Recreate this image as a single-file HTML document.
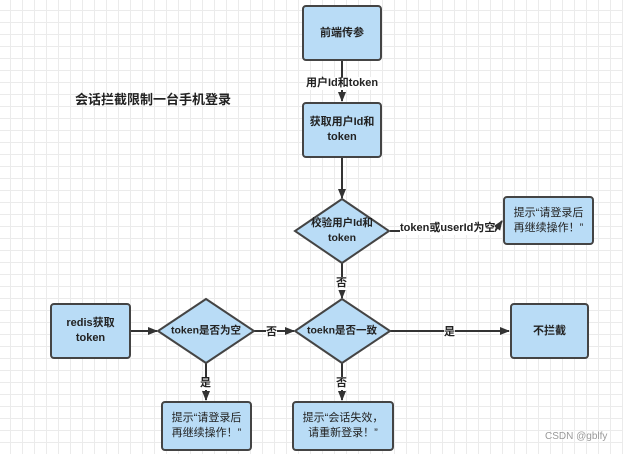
<!DOCTYPE html>
<html><head><meta charset="utf-8"><style>
html,body{margin:0;padding:0}
body{width:623px;height:454px;overflow:hidden;position:relative;background-color:#fff;
background-image:linear-gradient(#ebebeb 1px,transparent 1px),linear-gradient(90deg,#ebebeb 1px,transparent 1px);
background-size:12px 12px;background-position:-2px -2px;
font-family:"Liberation Sans","Noto Sans CJK SC",sans-serif;}
.b{position:absolute;box-sizing:border-box;background:#b9dcf6;border:2px solid #444;border-radius:4px;display:flex;align-items:center;justify-content:center;text-align:center;font-size:11px;font-weight:bold;color:#222;line-height:15px}
.t{position:absolute;font-size:11px;font-weight:bold;color:#222;background:#fff;line-height:13px;white-space:nowrap}
svg{position:absolute;left:0;top:0}
.dt{position:absolute;font-size:10.5px;font-weight:bold;color:#222;text-align:center;line-height:15px;transform:translate(-50%,-50%);white-space:nowrap}
</style></head><body>
<svg width="623" height="454">
<defs><marker id="a" markerWidth="10" markerHeight="10" refX="9" refY="5" orient="auto" markerUnits="userSpaceOnUse"><path d="M0,1 L10,5 L0,9 z" fill="#333"/></marker></defs>
<g stroke="#333" stroke-width="2" fill="none">
<line x1="342" y1="61" x2="342" y2="101" marker-end="url(#a)"/>
<line x1="342" y1="158" x2="342" y2="198" marker-end="url(#a)"/>
<polyline points="390,231 495,231 502,221" marker-end="url(#a)"/>
<line x1="342" y1="263" x2="342" y2="298" marker-end="url(#a)"/>
<line x1="131" y1="331" x2="157" y2="331" marker-end="url(#a)"/>
<line x1="254" y1="331" x2="294" y2="331" marker-end="url(#a)"/>
<line x1="390" y1="331" x2="509" y2="331" marker-end="url(#a)"/>
<line x1="206" y1="363" x2="206" y2="400" marker-end="url(#a)"/>
<line x1="342" y1="363" x2="342" y2="400" marker-end="url(#a)"/>
</g>
<g stroke="#444" stroke-width="2" fill="#b9dcf6">
<polygon points="342,199 389,231 342,263 295,231"/>
<polygon points="206,299 254,331 206,363 158,331"/>
<polygon points="342,299 390,331 342,363 295,331"/>
</g>
</svg>
<div class="b" style="left:302px;top:5px;width:80px;height:56px">前端传参</div>
<div class="b" style="left:302px;top:102px;width:80px;height:56px">获取用户Id和<br>token</div>
<div class="b" style="left:503px;top:196px;width:91px;height:49px;font-weight:normal">提示“请登录后<br>再继续操作！”</div>
<div class="b" style="left:50px;top:303px;width:81px;height:56px">redis获取<br>token</div>
<div class="b" style="left:510px;top:303px;width:79px;height:56px">不拦截</div>
<div class="b" style="left:161px;top:401px;width:91px;height:50px;font-weight:normal">提示“请登录后<br>再继续操作！”</div>
<div class="b" style="left:292px;top:401px;width:102px;height:50px;font-weight:normal">提示“会话失效，<br>请重新登录！”</div>
<div class="dt" style="left:342px;top:231px">校验用户Id和<br>token</div>
<div class="dt" style="left:206px;top:331px">token是否为空</div>
<div class="dt" style="left:342px;top:331px">toekn是否一致</div>
<div class="t" style="left:306px;top:77px">用户Id和token</div>
<div class="t" style="left:400px;top:222px">token或userId为空</div>
<div class="t" style="left:336px;top:277px">否</div>
<div class="t" style="left:266px;top:326px">否</div>
<div class="t" style="left:444px;top:326px">是</div>
<div class="t" style="left:200px;top:377px">是</div>
<div class="t" style="left:336px;top:377px">否</div>
<div style="position:absolute;left:75px;top:89px;font-size:13px;font-weight:bold;color:#222">会话拦截限制一台手机登录</div>
<div style="position:absolute;left:545px;top:431px;font-size:10px;color:#999">CSDN @gblfy</div>
</body></html>
